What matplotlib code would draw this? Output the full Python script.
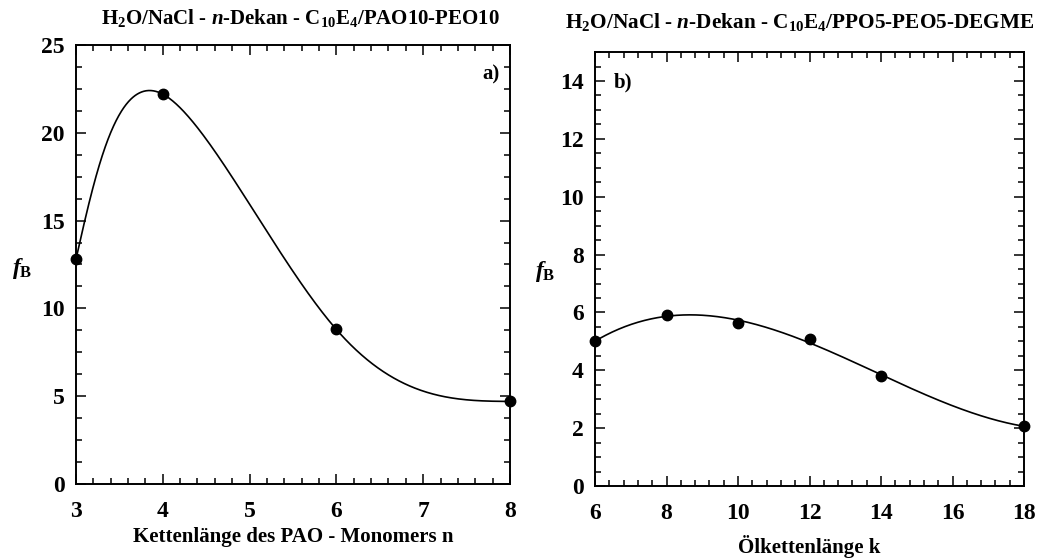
import numpy as np
import matplotlib
matplotlib.use("Agg")
import matplotlib.pyplot as plt
from matplotlib.ticker import MultipleLocator

plt.rcParams['font.family'] = ['Liberation Serif', 'DejaVu Serif']
plt.rcParams['font.weight'] = 'bold'
plt.rcParams['mathtext.fontset'] = 'custom'
plt.rcParams['mathtext.rm'] = 'Liberation Serif:bold'
plt.rcParams['mathtext.it'] = 'Liberation Serif:bold:italic'
plt.rcParams['mathtext.bf'] = 'Liberation Serif:bold'

# ---- data ----
n_monomers = [3, 4, 6, 8]
fB_a = [12.8, 22.2, 8.8, 4.7]

k_oil = [6, 8, 10, 12, 14, 18]
fB_b = [5.0, 5.92, 5.62, 5.07, 3.8, 2.07]

title_a = r"H$_2$O/NaCl - $n$-Dekan - C$_{10}$E$_4$/PAO10-PEO10"
title_b = r"H$_2$O/NaCl - $n$-Dekan - C$_{10}$E$_4$/PPO5-PEO5-DEGME"
xlabel_a = "Kettenlänge des PAO - Monomers n"
xlabel_b = "Ölkettenlänge k"
ylabel = r"$f_\mathrm{B}$"


def natural_spline_uniform(v, ts):
    """Natural cubic spline of values v over parameter 0..n-1, evaluated at ts."""
    v = np.asarray(v, float)
    n = len(v)
    A = np.zeros((n, n))
    r = np.zeros(n)
    A[0, 0] = A[-1, -1] = 1.0
    for i in range(1, n - 1):
        A[i, i - 1], A[i, i], A[i, i + 1] = 1.0, 4.0, 1.0
        r[i] = 6.0 * (v[i + 1] - 2 * v[i] + v[i - 1])
    M = np.linalg.solve(A, r)
    idx = np.clip(np.floor(ts).astype(int), 0, n - 2)
    t = ts - idx
    a, b = 1 - t, t
    return (M[idx] * a**3 / 6 + M[idx + 1] * b**3 / 6
            + (v[idx] - M[idx] / 6) * a + (v[idx + 1] - M[idx + 1] / 6) * b)


def parametric_spline(x, y, num=600):
    ts = np.linspace(0, len(x) - 1, num)
    return natural_spline_uniform(x, ts), natural_spline_uniform(y, ts)


fig = plt.figure(figsize=(10.45, 5.6), dpi=100)
ax1 = fig.add_axes([0.0727, 0.1357, 0.4153, 0.784])
ax2 = fig.add_axes([0.5694, 0.132, 0.4105, 0.775])

tick_fs = 17
for ax in (ax1, ax2):
    ax.tick_params(which='both', direction='in', top=True, right=True,
                   labelsize=tick_fs, width=1.1)
    ax.tick_params(which='major', length=7.5, pad=8)
    ax.tick_params(which='minor', length=4.5)
    ax.tick_params(axis='x', which='major', pad=12)
    for s in ax.spines.values():
        s.set_linewidth(1.4)

# Panel a
xs, ys = parametric_spline(n_monomers, fB_a)
ax1.plot(xs, ys, color='black', lw=1.2)
ax1.plot(n_monomers, fB_a, 'o', color='black', ms=7.5, clip_on=False, zorder=5)
ax1.set_xlim(3, 8)
ax1.set_ylim(0, 25)
ax1.xaxis.set_major_locator(MultipleLocator(1))
ax1.xaxis.set_minor_locator(MultipleLocator(0.2))
ax1.yaxis.set_major_locator(MultipleLocator(5))
ax1.yaxis.set_minor_locator(MultipleLocator(1.25))
ax1.set_xlabel(xlabel_a, fontsize=15, fontweight='bold', labelpad=4)
ax1.text(0.977, 0.932, "a)", transform=ax1.transAxes, fontsize=15,
         fontweight='bold', ha='right', va='center')

# Panel b
coef = np.polyfit(k_oil, fB_b, 3)
kx = np.linspace(min(k_oil), max(k_oil), 400)
ax2.plot(kx, np.polyval(coef, kx), color='black', lw=1.2)
ax2.plot(k_oil, fB_b, 'o', color='black', ms=7.5, clip_on=False, zorder=5)
ax2.set_xlim(6, 18)
ax2.set_ylim(0, 15)
ax2.xaxis.set_major_locator(MultipleLocator(2))
ax2.xaxis.set_minor_locator(MultipleLocator(0.4))
ax2.yaxis.set_major_locator(MultipleLocator(2))
ax2.yaxis.set_minor_locator(MultipleLocator(0.5))
ax2.set_xlabel(xlabel_b, fontsize=15, fontweight='bold', labelpad=8)
ax2.text(0.044, 0.931, "b)", transform=ax2.transAxes, fontsize=15,
         fontweight='bold', ha='left', va='center')

for ax in (ax1, ax2):
    for lab in ax.get_xticklabels() + ax.get_yticklabels():
        lab.set_fontweight('bold')

# titles and y labels
fig.text(300 / 1045, 1 - 18 / 560, title_a, fontsize=15, fontweight='bold',
         ha='center', va='center')
fig.text(800 / 1045, 1 - 22 / 560, title_b, fontsize=15.3, fontweight='bold',
         ha='center', va='center')
fig.text(12 / 1045, 1 - 268 / 560, ylabel, fontsize=17, ha='left', va='center')
fig.text(535 / 1045, 1 - 272 / 560, ylabel, fontsize=17, ha='left', va='center')

fig.savefig("out.png", dpi=100)
